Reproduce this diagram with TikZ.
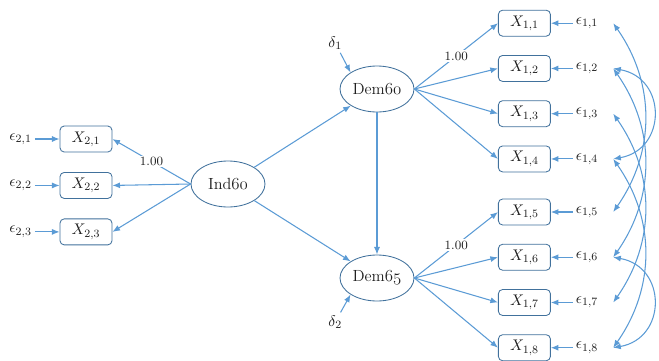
\documentclass[tikz,border=0pt]{standalone}
\usepackage{tikz}
\usetikzlibrary{arrows.meta,positioning,calc,shapes.geometric}
\definecolor{Ink}{HTML}{1E1E1E}
\definecolor{Edge}{HTML}{41719C}
\definecolor{Wire}{HTML}{5B9BD5}
\newcommand{\osf}[1]{$\mathnormal{#1}$}
\tikzset{
  obsbox/.style={draw=Edge,fill=white,rounded corners=3pt,minimum width=1.3cm,minimum height=0.65cm,line width=0.6pt,text=Ink,font=\fontsize{11}{13}\selectfont},
  latent/.style={draw=Edge,ellipse,minimum width=1.85cm,minimum height=1.15cm,inner sep=1pt,line width=0.6pt,text=Ink,font=\fontsize{11.5}{14}\selectfont},
  errlabel/.style={text=Ink,inner sep=2pt,font=\fontsize{11}{13}\selectfont},
  link/.style={-{Latex[length=1.9mm,width=1.5mm]},draw=Wire,line width=0.75pt},
  covlink/.style={{Latex[length=1.9mm,width=1.5mm]}-{Latex[length=1.9mm,width=1.5mm]},draw=Wire,line width=0.75pt},
  loading/.style={fill=white,inner sep=1pt,text=Ink,font=\small}
}

\begin{document}
\begin{tikzpicture}[node distance=0.46cm]
  \useasboundingbox (0,0) rectangle (16.475,-9);

  % latent variables
  \node[latent] (ind60) at (5.7,-4.6) {Ind\osf{60}};
  \node[latent] (dem60) at (9.425,-2.225) {Dem\osf{60}};
  \node[latent] (dem65) at (9.425,-6.95) {Dem\osf{65}};
  \node[errlabel] (d1) at (8.38,-1.08) {$\delta_1$};
  \node[errlabel] (d2) at (8.38,-8.05) {$\delta_2$};

  % indicators of Ind60
  \node[obsbox] (x21) at (2.15,-3.475) {$X_{2,1}$};
  \node[obsbox,below=0.49cm of x21] (x22) {$X_{2,2}$};
  \node[obsbox,below=0.49cm of x22] (x23) {$X_{2,3}$};
  \foreach \i in {1,2,3} {
    \node[errlabel,left=0.62cm of x2\i] (e2\i) {$\epsilon_{2,\i}$};
    \draw[link] (e2\i) -- (x2\i);
  }

  % indicators of Dem60 and Dem65
  \node[obsbox] (x11) at (13.11,-0.58) {$X_{1,1}$};
  \foreach \i/\p in {2/1,3/2,4/3}
    \node[obsbox,below=of x1\p] (x1\i) {$X_{1,\i}$};
  \node[obsbox] (x15) at (13.11,-5.3) {$X_{1,5}$};
  \foreach \i/\p in {6/5,7/6,8/7}
    \node[obsbox,below=of x1\p] (x1\i) {$X_{1,\i}$};
  \foreach \i in {1,...,8} {
    \node[errlabel,right=0.55cm of x1\i] (e1\i) {$\epsilon_{1,\i}$};
    \draw[link] (e1\i) -- (x1\i);
  }

  % structural paths
  \draw[link] (ind60) -- (dem60);
  \draw[link] (ind60) -- (dem65);
  \draw[link] (dem60) -- (dem65);
  \draw[link] (d1) -- (dem60.north west);
  \draw[link] (d2) -- (dem65.south west);

  % loadings
  \draw[link] (ind60.west) -- node[loading] {1.00} (x21.east);
  \draw[link] (ind60.west) -- (x22.east);
  \draw[link] (ind60.west) -- (x23.east);
  \draw[link] (dem60.east) -- node[loading] {1.00} (x11.west);
  \foreach \i in {2,3,4}
    \draw[link] (dem60.east) -- (x1\i.west);
  \draw[link] (dem65.east) -- node[loading] {1.00} (x15.west);
  \foreach \i in {6,7,8}
    \draw[link] (dem65.east) -- (x1\i.west);

  % correlated errors
  \foreach \a/\b in {1/5,2/6,3/7,4/8}
    \draw[covlink] ([xshift=0.3cm]e1\a.east) to[out=-55,in=55] ([xshift=0.3cm]e1\b.east);
  \draw[covlink] ([xshift=0.3cm]e12.east) to[out=-10,in=10,looseness=1.55] ([xshift=0.3cm]e14.east);
  \draw[covlink] ([xshift=0.3cm]e16.east) to[out=-10,in=10,looseness=1.55] ([xshift=0.3cm]e18.east);
\end{tikzpicture}
\end{document}
